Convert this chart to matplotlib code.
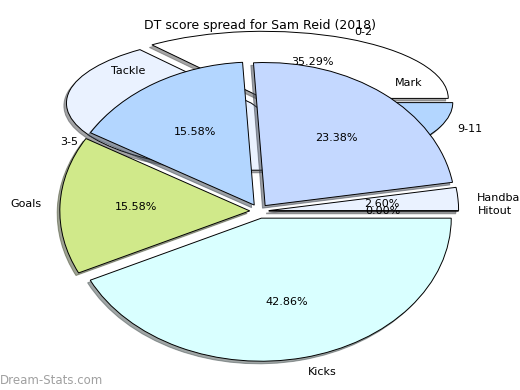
import matplotlib
matplotlib.use("Agg")
import matplotlib.pyplot as plt

# score spread (games per DT score band) - back pie
spread_labels = ["0-2", "3-5", "6-8", "9-11"]
spread_games = [6, 8, 1, 2]
spread_colors = ["#ffffff", "#eaf2ff", "#c4d8ff", "#b3d6ff"]

# points breakdown - front pie
stat_labels = ["Handball", "Mark", "Tackle", "Goals", "Kicks", "Hitout"]
stat_share = [2.60, 23.38, 15.58, 15.58, 42.86, 0.00]
stat_colors = ["#eaf2ff", "#c4d8ff", "#b3d6ff", "#d0e98a", "#d9ffff", "#ffffff"]

fig = plt.figure(figsize=(5.2, 3.9), dpi=100)

wedge_style = {"edgecolor": "black", "linewidth": 0.7}

# back pie, squashed flat
ax_back = fig.add_axes([0.054, 0.525, 0.889, 0.43])
ax_back.pie(spread_games, labels=spread_labels, colors=spread_colors,
            explode=[0.05] * len(spread_games), autopct="%.2f%%",
            shadow={"ox": -0.01, "oy": -0.028},
            wedgeprops=wedge_style, textprops={"fontsize": 8})
ax_back.set_aspect("auto")
ax_back.set_xlim(-1.25, 1.25)
ax_back.set_ylim(-1.25, 1.25)

# front pie
ax = fig.add_axes([0.042, 0.0, 0.913, 0.917])
ax.pie(stat_share, labels=stat_labels, colors=stat_colors,
       explode=[0.05] * len(stat_share), autopct="%.2f%%",
       shadow={"ox": -0.01, "oy": -0.013},
       wedgeprops=wedge_style, textprops={"fontsize": 8})
ax.set_aspect("auto")
ax.set_xlim(-1.25, 1.25)
ax.set_ylim(-1.25, 1.25)

fig.text(0.5, 0.935, "DT score spread for Sam Reid (2018)", ha="center",
         va="center", fontsize=9)
fig.text(0.0, 0.025, "Dream-Stats.com", ha="left", va="center",
         fontsize=8.5, color="#a0a0a0")

fig.savefig("out.png", dpi=100)
